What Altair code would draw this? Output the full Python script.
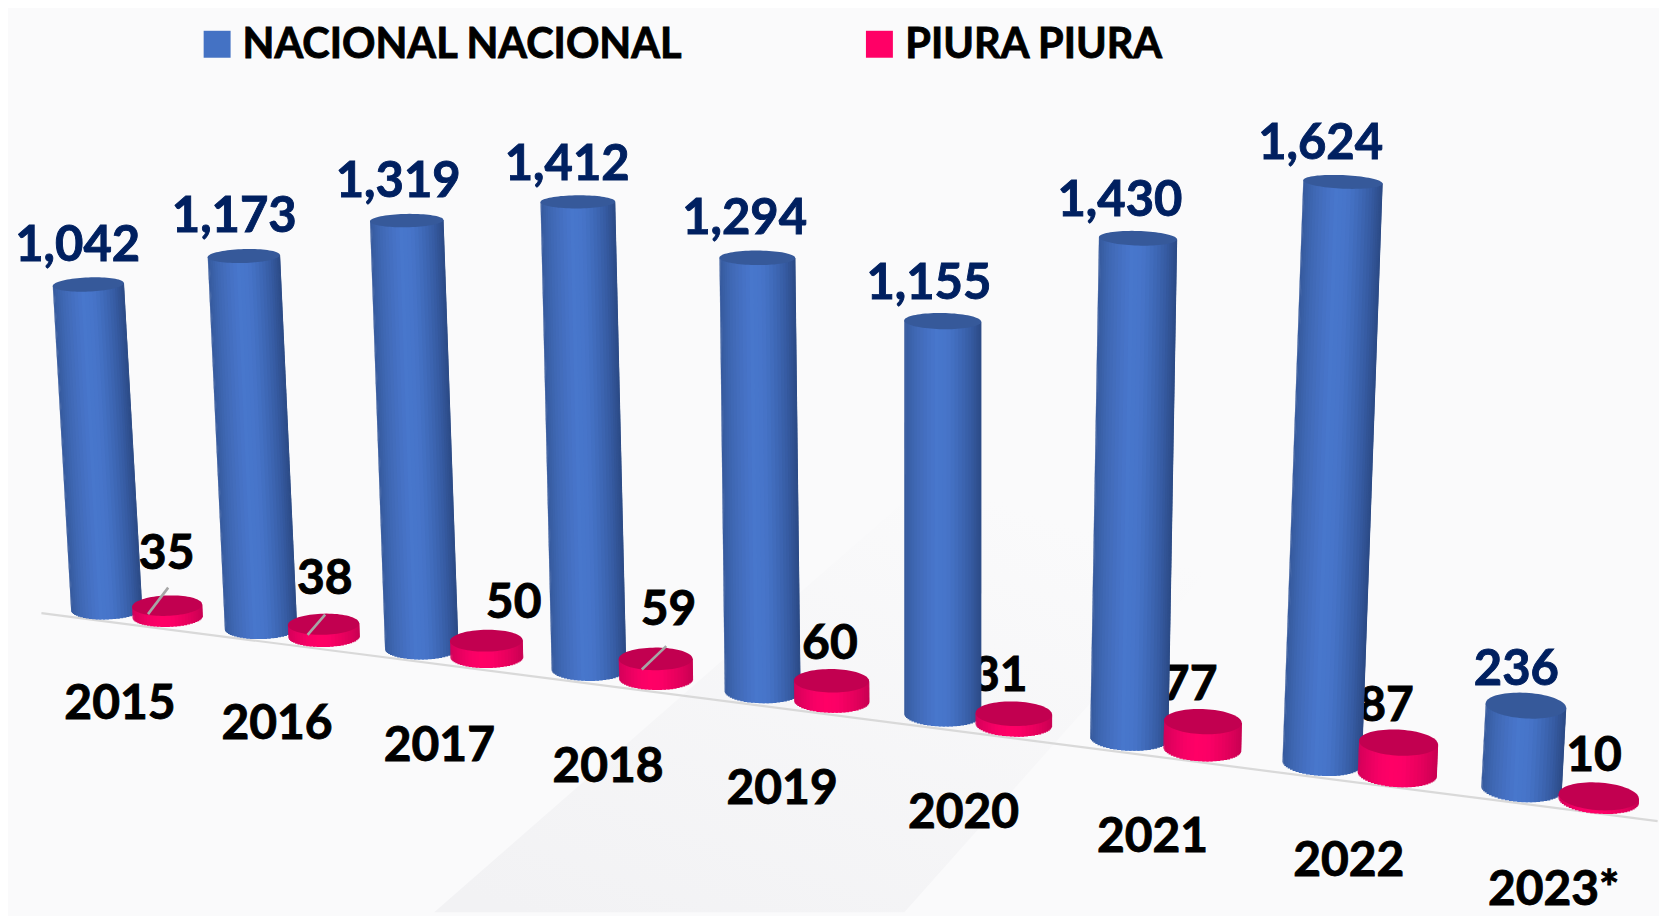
import altair as alt
import numpy as np
import pandas as pd

# ---- data ----
years = ["2015", "2016", "2017", "2018", "2019", "2020", "2021", "2022", "2023*"]
nacional = [1042, 1173, 1319, 1412, 1294, 1155, 1430, 1624, 236]
piura = [35, 38, 50, 59, 60, 31, 77, 87, 10]
legend_labels = ["NACIONAL NACIONAL", "PIURA PIURA"]

# ---- layout / perspective model (image units of the shrunk picture) ----
S = 1667 / 1568
W, H = 1651, 905
FONT = "Lato"
BLUE_PROFILE = ["#36599c", "#3f68b4", "#4570c2", "#4877cd", "#4674c8", "#3f69b8", "#375ca3", "#2b4a85"]
PINK_PROFILE = ["#d4005a", "#e80060", "#f80066", "#ff0066", "#fc0066", "#ee0060", "#de005a", "#c80052"]
BLUE_TOP, PINK_TOP = "#36599a", "#c20050"
DEPTH_SCALE = [0.2935, 0.2990, 0.3056, 0.3120, 0.3157, 0.3207, 0.3293, 0.3370, 0.3300]


def hex2rgb(h):
    return np.array([int(h[k:k + 2], 16) for k in (1, 3, 5)], float)


def shade(profile, u):
    p = (u + 1) / 2 * (len(profile) - 1)
    a = min(int(p), len(profile) - 2)
    c = hex2rgb(profile[a]) * (1 - (p - a)) + hex2rgb(profile[a + 1]) * (p - a)
    return "#%02x%02x%02x" % tuple(int(round(v)) for v in c)


def ratio(y):
    return 0.12 + 0.0003 * y


def tilt(x):
    return 7e-5 * (x - 650)


def lean(x):
    return (7.2e-5 if x < 887 else 1.0e-4) * (x - 887)


def cylinder(i, value, series):
    if series == 0:
        bx = 100.5 + 142.4 * i + 3.03 * i * i
        low = 583 + 18 * i + 0.44 * i * i
        w = 67 + 1.1 * i
    else:
        bx = 100.5 + 142.4 * i + 3.03 * i * i + 57.5 + 1.9 * i
        low = 590 + 18.5 * i + 0.44 * i * i
        w = 66 + 1.2 * i
    by = low - w * ratio(low) / 2
    h = value * DEPTH_SCALE[i]
    ty = by - h
    tx = bx + lean(bx) * h
    return bx, by, tx, ty, w


body_rows, top_rows = [], []
N = 30
thetas = np.linspace(np.pi, 0, N + 1)
us = np.cos(thetas)
for s, (vals, prof, topc) in enumerate([(nacional, BLUE_PROFILE, BLUE_TOP), (piura, PINK_PROFILE, PINK_TOP)]):
    for i, v in enumerate(vals):
        bx, by, tx, ty, w = cylinder(i, v, s)
        r = w / 2
        rb, rt = r * ratio(by), r * ratio(ty)
        for k in range(N):
            u0, u1 = us[k], us[k + 1]
            um = (u0 + u1) / 2
            over = 0 if k == N - 1 else (us[k + 1] - us[k]) * 0.6
            col = shade(prof, um)
            y_t = ty + tilt(tx) * um * r
            y_b = by + tilt(bx) * um * r + rb * np.sqrt(max(0, 1 - um * um))
            sid = f"{s}-{i}-{k:02d}"
            body_rows.append(dict(y=y_t * S, x=(tx + u0 * r) * S, x2=(tx + (u1 + over) * r) * S, c=col, id=sid, s=s))
            body_rows.append(dict(y=y_b * S, x=(bx + u0 * r) * S, x2=(bx + (u1 + over) * r) * S, c=col, id=sid, s=s))
        for th in np.linspace(np.pi, 0, 41):
            u = np.cos(th)
            off = np.sqrt(max(0, 1 - u * u)) * rt
            mid = ty + tilt(tx) * u * r
            top_rows.append(dict(x=(tx + u * r) * S, y=(mid - off) * S, y2=(mid + off) * S, c=topc, id=f"{s}-{i}", s=s))

body = pd.DataFrame(body_rows)
tops = pd.DataFrame(top_rows)

# label placement relative to the cylinder tops
blue_shift = [-10, -9, -8, -10, -12, -13, -17, -21, -9]
blue_rise = [22, 23, 22, 21, 22, 21, 21, 22, 19]
pink_anchor = [(157, 535), (306, 559), (484, 582), (630, 588), (782, 620), (942, 650), (1121, 659), (1306, 679), (1502, 726)]
year_anchor = [(113, 677), (261, 696), (414, 716), (573, 736), (737, 757), (908, 779), (1086, 802), (1271, 825), (1464, 852)]

blue_labels = pd.DataFrame([
    dict(x=(cylinder(i, v, 0)[2] + blue_shift[i]) * S, y=(cylinder(i, v, 0)[3] - blue_rise[i]) * S, t=f"{v:,}")
    for i, v in enumerate(nacional)
])
pink_labels = pd.DataFrame([dict(x=a * S, y=b * S, t=str(v)) for (a, b), v in zip(pink_anchor, piura)])
year_labels = pd.DataFrame([dict(x=a * S, y=b * S, t=t) for (a, b), t in zip(year_anchor, years)])

# leader lines of the small labels (offsets from the top centre)
leader_offsets = {0: (-18, 8, 1, -17), 1: (-15, 10, 1.5, -9), 3: (-13, 10, 10, -12)}
leaders = []
for i, (a, b, c, d) in leader_offsets.items():
    _, _, tx, ty, _ = cylinder(i, piura[i], 1)
    leaders.append(dict(x=(tx + a) * S, y=(ty + b) * S, x2=(tx + c) * S, y2=(ty + d) * S))
leaders = pd.DataFrame(leaders)

base_line = pd.DataFrame({"x": [39 * S], "y": [577 * S], "x2": [1562 * S], "y2": [773 * S]})

band = pd.DataFrame({"y": [913.0, 470.0], "x": [435.0, 942.0], "x2": [906.0, 1300.0]})

legend_sq = pd.DataFrame({"x": [217.5, 881.0], "y": [43.5, 43.5], "c": ["#4472C4", "#FF0066"]})
legend_tx = pd.DataFrame({"x": [243.0, 907.0], "y": [57.0, 57.0], "t": legend_labels})

X = alt.Scale(domain=[8, 8 + W], range=[0, W], nice=False, zero=False)
Y = alt.Scale(domain=[8, 8 + H], range=[0, H], nice=False, zero=False)


def qx(f="x"):
    return alt.X(f"{f}:Q", scale=X, axis=None)


def qy(f="y"):
    return alt.Y(f"{f}:Q", scale=Y, axis=None)


def text_layer(df, color, size, align="center"):
    return alt.Chart(df).mark_text(
        font=FONT, fontWeight="bold", fontSize=size, color=color, align=align, baseline="alphabetic",
        stroke=color, strokeWidth=0.9,
    ).encode(x=qx(), y=qy(), text="t:N")


band_layer = alt.Chart(band).mark_area(
    orient="horizontal",
    color=alt.LinearGradient(
        gradient="linear",
        x1=0.1, y1=1, x2=0.7, y2=0.1,
        stops=[alt.GradientStop(offset=0, color="#f2f2f4"), alt.GradientStop(offset=1, color="#fafafb")],
    ),
).encode(x=qx(), x2="x2:Q", y=qy())

base_layer = alt.Chart(base_line).mark_rule(color="#d9d9d9", strokeWidth=2.2).encode(
    x=qx(), x2="x2:Q", y=qy(), y2="y2:Q"
)


def bodies(s):
    return alt.Chart(body[body.s == s]).mark_area(orient="horizontal").encode(
        x=qx(), x2="x2:Q", y=qy(), detail="id:N", color=alt.Color("c:N", scale=None)
    )


def top_caps(s):
    return alt.Chart(tops[tops.s == s]).mark_area(orient="vertical").encode(
        x=qx(), y=qy(), y2="y2:Q", detail="id:N", color=alt.Color("c:N", scale=None)
    )


leader_layer = alt.Chart(leaders).mark_rule(color="#a6a6a6", strokeWidth=2.6).encode(
    x=qx(), x2="x2:Q", y=qy(), y2="y2:Q"
)

legend_squares = alt.Chart(legend_sq).mark_square(size=729, opacity=1, filled=True).encode(
    x=qx(), y=qy(), color=alt.Color("c:N", scale=None)
)

chart = alt.layer(
    band_layer,
    base_layer,
    text_layer(pink_labels, "#000000", 48),
    bodies(0),
    top_caps(0),
    bodies(1),
    top_caps(1),
    leader_layer,
    text_layer(blue_labels, "#002060", 49),
    text_layer(year_labels, "#000000", 48),
    legend_squares,
    text_layer(legend_tx, "#000000", 41.5, "left"),
).properties(
    width=W, height=H, padding=0, background="#fafafb"
).configure_view(stroke=None)

chart.save("out.html", embed_options={"renderer": "svg", "actions": False})
